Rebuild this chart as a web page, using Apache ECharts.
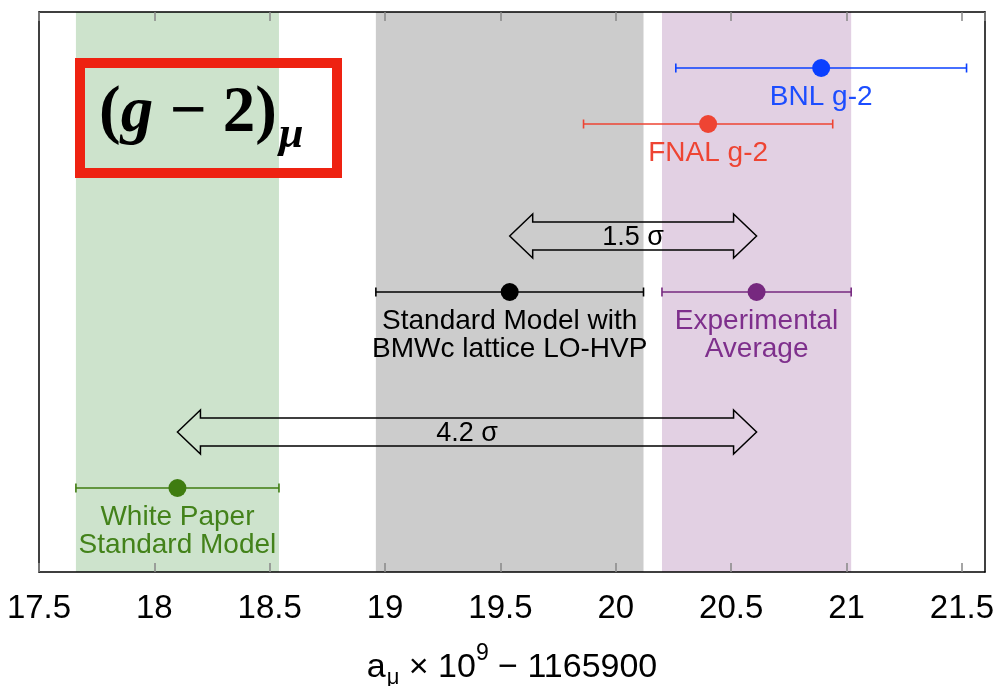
<!DOCTYPE html>
<html><head><meta charset="utf-8">
<script src="https://cdn.jsdelivr.net/npm/echarts@6/dist/echarts.min.js"></script>
<style>html,body{margin:0;padding:0;background:#fff}#c{width:1007px;height:686px}</style>
</head><body><div id="c"></div>
<script>
// ---- data ----
const names = ['BNL g-2', 'FNAL g-2', 'Standard Model with\nBMWc lattice LO-HVP', 'Experimental\nAverage', 'White Paper\nStandard Model'];
const centers = [20.89, 20.40, 19.54, 20.61, 18.10];
const errors = [0.63, 0.54, 0.58, 0.41, 0.44];
const rows = [10, 20, 50, 50, 85];
const markColors = ['#0A40FF', '#EE4433', '#000000', '#76287F', '#3F7C10'];
const textColors = ['#1C4DFF', '#EE4433', '#000000', '#7E2F8C', '#43821A'];
const bandOf = [4, 2, 3];
const bandColors = ['#CDE3CC', '#CCCCCC', '#E2D0E3'];
const arrowFrom = [19.54, 18.10];
const arrowTo = [20.61, 20.61];
const arrowRows = [40, 75];
const arrowLabels = ['1.5 σ', '4.2 σ'];
const xMin = 17.5, xMax = 21.6, xStep = 0.5;

const FF = "'Liberation Sans', Arial, Helvetica, sans-serif";
const SERIF = "'Liberation Serif', 'Times New Roman', serif";

const chart = echarts.init(document.getElementById('c'), null, {renderer: 'canvas'});

const bandData = bandOf.map((k, i) => [centers[k], errors[k], i]);
const errData = centers.map((c, i) => [c, errors[i], rows[i], i]);
const arrowData = arrowFrom.map((f, i) => [f, arrowTo[i], arrowRows[i], i]);

const option = {
  animation: false,
  backgroundColor: '#fff',
  grid: {left: 39, right: 22, top: 12, bottom: 114, containLabel: false, outerBoundsMode: 'none'},
  xAxis: [{
    type: 'value', min: xMin, max: xMax, interval: xStep, position: 'bottom', z: 10,
    axisLine: {show: true, onZero: false, lineStyle: {color: '#000', width: 1.5}},
    axisTick: {show: true, inside: true, length: 9, lineStyle: {color: '#888', width: 1.5}},
    axisLabel: {fontSize: 33, color: '#000', margin: 20, fontFamily: FF, showMaxLabel: false, showMinLabel: true},
    splitLine: {show: false},
    name: '{n|a}{sub|μ}{n| × 10}{sup|9}{n| − 1165900}',
    nameLocation: 'middle', nameGap: 70,
    nameTextStyle: {
      color: '#000', fontFamily: FF, fontSize: 34,
      rich: {
        n: {fontSize: 34, fontFamily: FF, color: '#000'},
        sub: {fontSize: 22, fontFamily: FF, color: '#000', padding: [20, 0, 0, 1]},
        sup: {fontSize: 23, fontFamily: FF, color: '#000', padding: [0, 0, 28, 0]}
      }
    }
  }, {
    type: 'value', min: xMin, max: xMax, interval: xStep, position: 'top', z: 10,
    axisLine: {show: true, onZero: false, lineStyle: {color: '#000', width: 1.5}},
    axisTick: {show: true, inside: true, length: 9, lineStyle: {color: '#888', width: 1.5}},
    axisLabel: {show: false},
    splitLine: {show: false}
  }],
  yAxis: [{
    type: 'value', min: 0, max: 100, inverse: true, position: 'left', z: 10,
    axisLine: {show: true, onZero: false, lineStyle: {color: '#000', width: 1.5}},
    axisTick: {show: false}, axisLabel: {show: false}, splitLine: {show: false}
  }, {
    type: 'value', min: 0, max: 100, inverse: true, position: 'right', z: 10,
    axisLine: {show: true, onZero: false, lineStyle: {color: '#000', width: 1.5}},
    axisTick: {show: false}, axisLabel: {show: false}, splitLine: {show: false}
  }],
  series: [
    {
      type: 'custom', name: 'bands', z: 1, xAxisIndex: 0, yAxisIndex: 0,
      data: bandData, encode: {x: 0, y: 2},
      renderItem: function (params, api) {
        const c = api.value(0), e = api.value(1), i = api.value(2);
        const p1 = api.coord([c - e, 0]);
        const p2 = api.coord([c + e, 100]);
        return {type: 'rect', shape: {x: p1[0], y: p1[1], width: p2[0] - p1[0], height: p2[1] - p1[1]},
                style: {fill: bandColors[i]}};
      }
    },
    {
      type: 'custom', name: 'arrows', z: 3, xAxisIndex: 0, yAxisIndex: 0,
      data: arrowData, encode: {x: [0, 1], y: 2},
      renderItem: function (params, api) {
        const a = api.coord([api.value(0), api.value(2)]);
        const b = api.coord([api.value(1), api.value(2)]);
        const i = api.value(3);
        const y = a[1], x1 = a[0], x2 = b[0], hl = 23, hh = 22, sh = 14;
        const pts = [[x1, y], [x1 + hl, y - hh], [x1 + hl, y - sh], [x2 - hl, y - sh], [x2 - hl, y - hh],
                     [x2, y], [x2 - hl, y + hh], [x2 - hl, y + sh], [x1 + hl, y + sh], [x1 + hl, y + hh]];
        return {type: 'group', children: [
          {type: 'polygon', shape: {points: pts}, style: {fill: 'none', stroke: '#000', lineWidth: 1.5}},
          {type: 'text', x: (x1 + x2) / 2, y: y + 2, style: {text: arrowLabels[i], fill: '#000', textFill: '#000',
            fontSize: 27, fontFamily: FF, align: 'center', verticalAlign: 'middle',
            textAlign: 'center', textVerticalAlign: 'middle'}}
        ]};
      }
    },
    {
      type: 'custom', name: 'errorbars', z: 4, xAxisIndex: 0, yAxisIndex: 0,
      data: errData, encode: {x: 0, y: 2},
      renderItem: function (params, api) {
        const c = api.value(0), e = api.value(1), r = api.value(2), i = api.value(3);
        const p1 = api.coord([c - e, r]);
        const p2 = api.coord([c + e, r]);
        const st = {stroke: markColors[i], lineWidth: 1.6};
        const ch = 4.5;
        return {type: 'group', children: [
          {type: 'line', shape: {x1: p1[0], y1: p1[1], x2: p2[0], y2: p2[1]}, style: st},
          {type: 'line', shape: {x1: p1[0], y1: p1[1] - ch, x2: p1[0], y2: p1[1] + ch}, style: st},
          {type: 'line', shape: {x1: p2[0], y1: p2[1] - ch, x2: p2[0], y2: p2[1] + ch}, style: st}
        ]};
      }
    },
    {
      type: 'scatter', name: 'points', z: 5, xAxisIndex: 0, yAxisIndex: 0,
      symbol: 'circle', symbolSize: 18,
      itemStyle: {opacity: 1},
      data: centers.map((c, i) => ({
        value: [c, rows[i]],
        itemStyle: {color: markColors[i], opacity: 1},
        label: {show: true, formatter: names[i], color: textColors[i]}
      })),
      label: {position: 'bottom', distance: 6, fontSize: 28, lineHeight: 28, fontFamily: FF, align: 'center', opacity: 1}
    }
  ],
  graphic: [
    {type: 'rect', z: 100, shape: {x: 80, y: 63, width: 257, height: 110},
     style: {fill: 'none', stroke: '#EE2211', lineWidth: 10}},
    {type: 'text', z: 100, x: 99, y: 114,
     style: {text: '{p|(}{g|g}{p| − 2)}',
       rich: {
         p: {fontSize: 65, fontWeight: 'bold', fontFamily: SERIF, fill: '#000', color: '#000', textFill: '#000'},
         g: {fontSize: 65, fontWeight: 'bold', fontStyle: 'italic', fontFamily: SERIF, fill: '#000', color: '#000', textFill: '#000'}
       },
       align: 'left', verticalAlign: 'middle', textAlign: 'left', textVerticalAlign: 'middle'}},
    {type: 'text', z: 100, x: 279, y: 136,
     style: {text: 'μ', fontSize: 44, fontWeight: 'bold', fontStyle: 'italic', fontFamily: SERIF,
       fill: '#000', textFill: '#000',
       align: 'left', verticalAlign: 'middle', textAlign: 'left', textVerticalAlign: 'middle'}}
  ]
};
chart.setOption(option);
</script>
</body></html>
